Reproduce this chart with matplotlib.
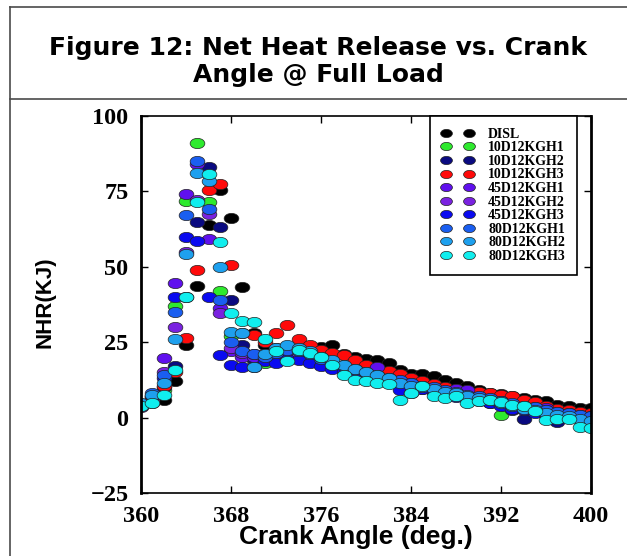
import matplotlib
matplotlib.use("Agg")
import matplotlib.pyplot as plt
from matplotlib.lines import Line2D
from matplotlib.path import Path
import numpy as np

# crank angle (deg.)
crank_angle = list(range(360, 401))

series_names = ["DISL", "10D12KGH1", "10D12KGH2", "10D12KGH3", "45D12KGH1",
                "45D12KGH2", "45D12KGH3", "80D12KGH1", "80D12KGH2", "80D12KGH3"]
series_colors = ["#000000", "#2eea2e", "#0a0a80", "#ff0a0a", "#6010ee",
                 "#7a22e0", "#0a0af0", "#1a5ef0", "#1ea0ee", "#10eeee"]

# net heat release (kJ), one value per degree 360..400
nhr_disl = [4.0, 5.0, 6.0, 12.0, 24.0, 43.5, 64.0, 75.4, 66.2, 43.2,
            28.0, 24.0, 23.0, 22.5, 22.5, 23.0, 23.5, 24.0, 21.0, 20.0,
            19.5, 19.2, 18.1, 15.7, 14.3, 14.3, 13.7, 12.6, 11.5, 10.4,
            9.3, 8.3, 7.8, 7.3, 6.5, 6.0, 5.4, 4.3, 3.7, 3.2, 3.2]
nhr_10h1 = [4.5, 6.5, 9.0, 37.0, 71.9, 90.9, 71.4, 42.0, 27.0, 22.0,
            19.0, 18.0, 19.0, 19.5, 19.5, 19.0, 18.5, 17.5, 16.5, 15.5,
            14.5, 13.5, 12.5, 12.0, 11.0, 10.5, 9.5, 8.5, 7.5, 6.8,
            6.0, 5.5, 0.7, 4.2, 3.8, 3.0, 2.5, 2.0, 1.5, 1.0, 0.8]
nhr_10h2 = [4.0, 6.0, 10.0, 17.0, 40.0, 65.0, 83.1, 63.2, 38.9, 24.0,
            19.5, 19.2, 20.0, 21.0, 20.5, 20.0, 19.5, 18.5, 17.5, 16.5,
            15.5, 14.5, 13.0, 12.0, 11.0, 10.0, 9.0, 8.5, 7.5, 7.0,
            6.5, 5.5, 4.5, 2.5, -0.5, 1.8, 1.5, -1.5, 0.5, 0.0, -0.5]
nhr_10h3 = [4.5, 6.5, 10.5, 15.0, 26.5, 49.0, 75.6, 77.6, 50.7, 28.0,
            27.5, 25.0, 28.0, 30.8, 25.9, 24.0, 22.5, 21.5, 20.9, 19.0,
            17.5, 16.5, 15.5, 14.3, 13.0, 12.0, 11.0, 10.0, 9.5, 9.0,
            8.5, 8.0, 7.6, 7.0, 6.0, 5.1, 3.7, 3.0, 2.5, 2.0, 1.5]
nhr_45h1 = [4.0, 7.0, 19.6, 44.7, 74.3, 84.0, 59.3, 36.4, 22.0, 20.0,
            20.1, 21.0, 22.0, 21.5, 21.0, 20.5, 19.0, 18.0, 16.5, 15.5,
            14.5, 16.8, 12.5, 12.0, 11.5, 10.5, 9.5, 8.5, 9.5, 9.3,
            6.5, 6.0, 5.5, 4.5, 4.0, 3.5, 3.2, 2.0, 1.5, 1.0, 0.5]
nhr_45h2 = [3.5, 6.0, 15.0, 30.0, 55.0, 72.0, 67.5, 34.7, 23.0, 21.5,
            21.0, 20.0, 21.0, 22.0, 21.0, 20.0, 18.5, 17.0, 16.0, 15.0,
            14.0, 13.0, 12.0, 11.0, 10.0, 9.5, 8.5, 8.0, 7.5, 6.5,
            6.0, 5.0, 4.5, 4.0, 3.5, 3.0, 2.5, 1.5, 1.0, 0.5, 0.0]
nhr_45h3 = [4.0, 7.0, 13.0, 40.0, 59.9, 58.5, 40.0, 20.9, 17.6, 16.8,
            16.9, 18.7, 18.2, 19.5, 19.0, 18.0, 17.0, 16.0, 15.5, 14.0,
            13.0, 12.5, 11.5, 9.0, 8.2, 9.5, 8.5, 7.5, 6.8, 6.0,
            5.5, 5.0, 4.0, 3.0, 2.5, 1.5, 1.0, 0.5, 0.0, -0.5, -1.0]
nhr_80h1 = [4.5, 8.0, 14.0, 35.0, 67.3, 85.0, 69.3, 38.9, 25.0, 22.0,
            21.0, 20.0, 21.5, 22.5, 22.0, 21.0, 19.5, 18.5, 17.0, 16.0,
            15.0, 14.0, 13.0, 12.5, 11.5, 10.5, 10.0, 9.0, 8.5, 7.5,
            7.0, 6.5, 5.5, 5.0, 4.0, 3.5, 2.5, 2.0, 1.5, 1.0, 0.5]
nhr_80h2 = [5.0, 7.5, 11.5, 26.0, 54.3, 81.2, 78.3, 49.8, 28.3, 28.1,
            16.8, 21.0, 23.0, 24.0, 23.0, 22.0, 20.0, 19.0, 17.5, 16.0,
            15.0, 14.0, 13.0, 11.5, 10.5, 10.0, 9.5, 8.5, 8.0, 7.0,
            6.5, 6.0, 5.0, 4.0, 3.0, 2.5, 1.5, 1.0, 0.5, -0.5, -1.0]
nhr_80h3 = [4.0, 5.0, 7.6, 15.9, 40.0, 71.4, 80.9, 58.2, 34.7, 31.9,
            31.6, 26.1, 22.0, 18.7, 22.5, 21.5, 20.0, 17.5, 14.0, 12.5,
            12.0, 11.5, 11.0, 6.0, 8.2, 10.4, 7.3, 6.5, 7.1, 4.9,
            5.4, 6.0, 5.1, 4.3, 3.8, 2.1, -0.7, -0.4, -0.3, -3.0, -3.4]

all_nhr = [nhr_disl, nhr_10h1, nhr_10h2, nhr_10h3, nhr_45h1,
           nhr_45h2, nhr_45h3, nhr_80h1, nhr_80h2, nhr_80h3]

x_ticks = [360, 368, 376, 384, 392, 400]
y_ticks = [-25, 0, 25, 50, 75, 100]

# the original is stretched sideways, so the dots are flat ellipses
circ = Path.unit_circle()
ellipse = Path(circ.vertices * np.array([1.0, 0.7]), circ.codes)

W, H = 627, 556
fig = plt.figure(figsize=(W / 100, H / 100), dpi=100)
ax = fig.add_axes([141 / W, 1 - 493 / H, 450 / W, 377 / H])

for name, color, vals in zip(series_names, series_colors, all_nhr):
    ax.plot(crank_angle, vals, linestyle="none", marker=ellipse, markersize=10.6,
            markerfacecolor=color, markeredgecolor="#222222", markeredgewidth=0.5,
            label=name)

ax.set_xlim(360, 400)
ax.set_ylim(-25, 100)
ax.set_xticks(x_ticks)
ax.set_yticks(y_ticks)
ax.tick_params(direction="in", length=5, width=1, top=True, right=True,
               labelsize=17.5, pad=9)
for lbl in ax.get_xticklabels() + ax.get_yticklabels():
    lbl.set_family("Liberation Serif")
    lbl.set_fontweight("bold")
ax.spines["left"].set_linewidth(2)
ax.spines["right"].set_linewidth(2)
ax.spines["top"].set_linewidth(1.2)
ax.spines["bottom"].set_linewidth(1.2)

ax.set_xlabel("Crank Angle (deg.)", family="Liberation Sans", fontweight="bold",
              fontsize=19, va="center")
ax.xaxis.set_label_coords(0.478, -0.117)
ax.set_ylabel("NHR(KJ)", family=["Liberation Sans Narrow", "Liberation Sans"],
              fontweight="bold", fontsize=16, va="center")
ax.yaxis.set_label_coords(-0.213, 0.507)

leg = ax.legend(loc="upper left", bbox_to_anchor=(0.642, 1.0), numpoints=2,
                prop={"family": "Liberation Serif", "weight": "bold", "size": 10},
                frameon=True, fancybox=False, framealpha=1, edgecolor="black",
                borderpad=0.85, handlelength=2.25, handletextpad=1.1,
                labelspacing=0.04, borderaxespad=0)
leg.get_frame().set_linewidth(1.2)
for h in leg.legend_handles:
    h.set_markersize(8.5)

# outer box and title panel
frame_color = "#4a4a4a"
fig.add_artist(Line2D([10 / W, 10 / W], [1 - 7 / H, 0], color=frame_color, lw=1.2))
fig.add_artist(Line2D([10 / W, 1], [1 - 7 / H, 1 - 7 / H], color=frame_color, lw=1.2))
fig.add_artist(Line2D([10 / W, 1], [1 - 99 / H, 1 - 99 / H], color=frame_color, lw=1.2))
fig.text(318 / W, 1 - 61.5 / H, "Figure 12: Net Heat Release vs. Crank\nAngle @ Full Load",
         ha="center", va="center", fontsize=18, fontweight="bold",
         family="DejaVu Sans", linespacing=1.15)

fig.savefig("out.png", dpi=100)
